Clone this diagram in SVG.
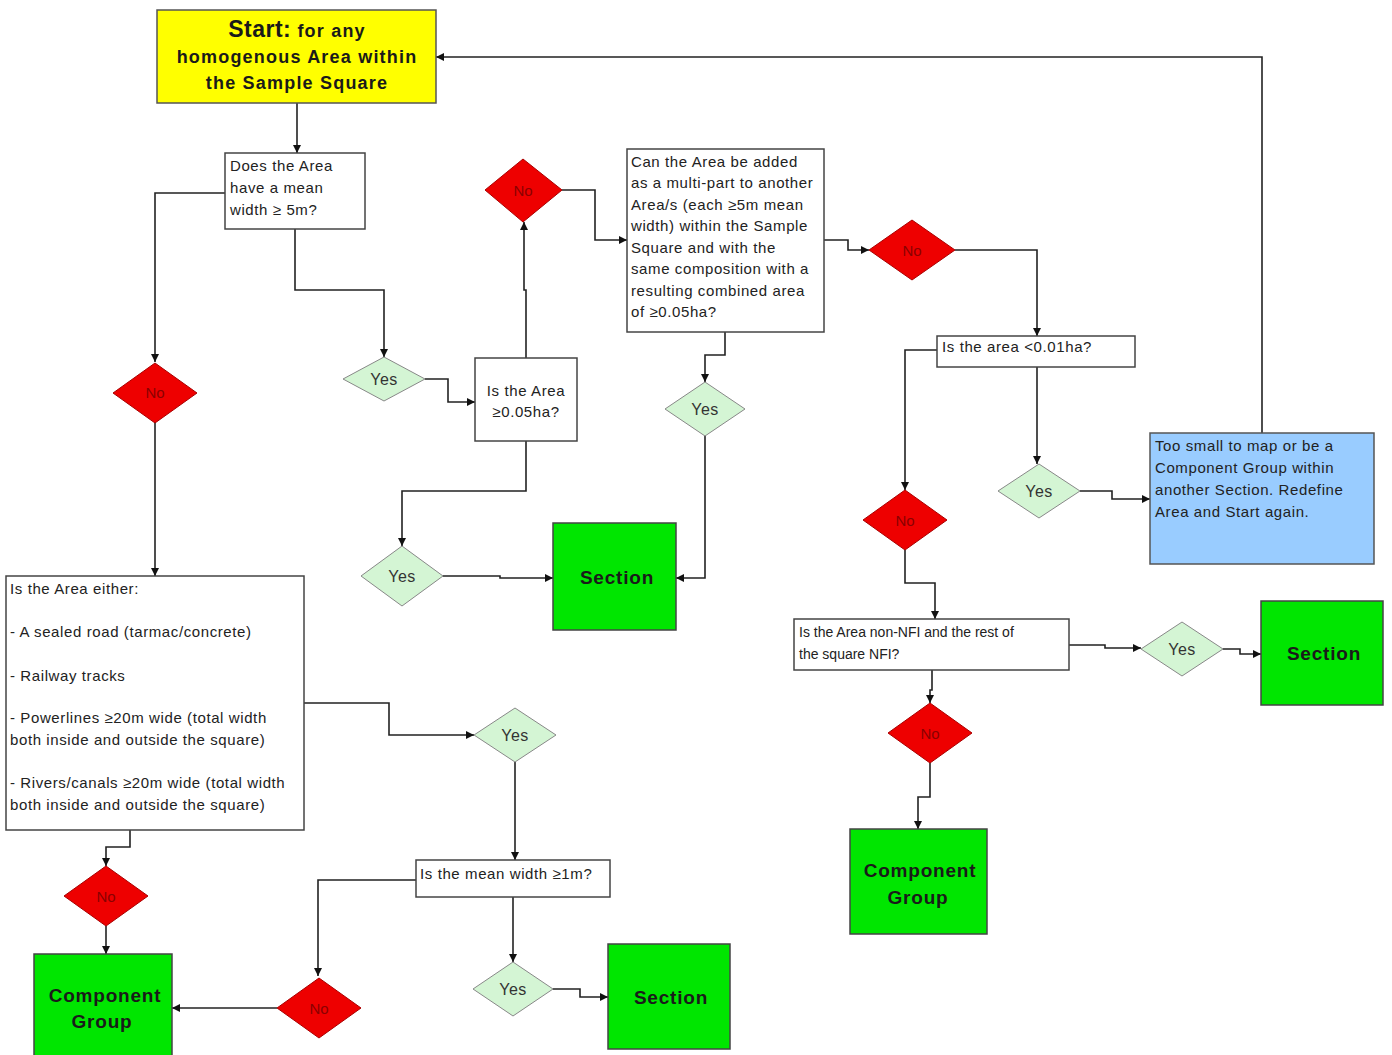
<svg xmlns="http://www.w3.org/2000/svg" width="1392" height="1055" viewBox="0 0 1392 1055">
<style>
.bx{fill:#fff;stroke:#444;stroke-width:1.5}
.st{fill:#ffff00;stroke:#555;stroke-width:1.5}
.gr{fill:#00e600;stroke:#444;stroke-width:1.5}
.bl{fill:#99ccff;stroke:#555;stroke-width:1.5}
.no{fill:#ee0000;stroke:#aa0000;stroke-width:1}
.ys{fill:#d4f5d4;stroke:#888;stroke-width:1}
.t{font-family:"Liberation Sans",Arial,sans-serif;font-size:15px;fill:#222;letter-spacing:0.6px}
.tn{font-family:"Liberation Sans",Arial,sans-serif;font-size:14px;fill:#222}
.tc{font-family:"Liberation Sans",Arial,sans-serif;font-size:15px;fill:#222;text-anchor:middle;letter-spacing:0.6px}
.nl{font-family:"Liberation Sans",Arial,sans-serif;font-size:15px;fill:#8a0000;text-anchor:middle}
.yl{font-family:"Liberation Sans",Arial,sans-serif;font-size:16px;fill:#333;text-anchor:middle;letter-spacing:0.5px}
.big{font-family:"Liberation Sans",Arial,sans-serif;font-size:19px;font-weight:bold;fill:#1a1a1a;text-anchor:middle;letter-spacing:0.8px}
.stt{font-family:"Liberation Sans",Arial,sans-serif;font-size:18px;font-weight:bold;fill:#1a1a1a;text-anchor:middle;letter-spacing:1.2px}
.c{fill:none;stroke:#222;stroke-width:1.6;marker-end:url(#a)}
</style>
<defs>
<marker id="a" viewBox="0 0 10 10" refX="10" refY="5" markerWidth="9" markerHeight="8" markerUnits="userSpaceOnUse" orient="auto">
<path d="M0,0 L10,5 L0,10 z" fill="#111"/>
</marker>
</defs>
<rect width="1392" height="1055" fill="#fff"/>

<g id="connectors">
<path class="c" d="M297,103 V153"/>
<path class="c" d="M225,193 H155 V362"/>
<path class="c" d="M155,422 V576"/>
<path class="c" d="M295,229 V290 H384 V357"/>
<path class="c" d="M425,379 H448 V402 H475"/>
<path class="c" d="M526,358 V290 H524 V222"/>
<path class="c" d="M562,190 H595 V240 H627"/>
<path class="c" d="M725,332 V355 H705 V382"/>
<path class="c" d="M705,435 V578 H676"/>
<path class="c" d="M526,441 V491 H402 V546"/>
<path class="c" d="M443,576 H500 V578 H553"/>
<path class="c" d="M824,240 H848 V250 H869"/>
<path class="c" d="M955,250 H1037 V336"/>
<path class="c" d="M937,350 H905 V490"/>
<path class="c" d="M1037,367 V464"/>
<path class="c" d="M1080,491 H1112 V499 H1150"/>
<path class="c" d="M1262,433 V57 H436"/>
<path class="c" d="M905,550 V583 H935 V619"/>
<path class="c" d="M1069,645 H1105 V648 H1141"/>
<path class="c" d="M1223,649 H1240 V654 H1261"/>
<path class="c" d="M932,670 V690 H930 V703"/>
<path class="c" d="M930,763 V797 H918 V829"/>
<path class="c" d="M304,703 H389 V735 H474"/>
<path class="c" d="M515,762 V860"/>
<path class="c" d="M416,880 H318 V976"/>
<path class="c" d="M277,1008 H172"/>
<path class="c" d="M513,897 V962"/>
<path class="c" d="M553,989 H580 V997 H608"/>
<path class="c" d="M130,830 V847 H106 V866"/>
<path class="c" d="M106,926 V954"/>
</g>

<g id="start">
<rect class="st" x="157" y="10" width="279" height="93"/>
<text class="stt" x="297" y="37"><tspan font-size="23px" letter-spacing="0.5px">Start:</tspan> for any</text>
<text class="stt" x="297" y="63">homogenous Area within</text>
<text class="stt" x="297" y="89">the Sample Square</text>
</g>

<g id="q-width5">
<rect class="bx" x="225" y="153" width="140" height="76"/>
<text class="t" x="230" y="171">Does the Area</text>
<text class="t" x="230" y="193">have a mean</text>
<text class="t" x="230" y="215">width ≥ 5m?</text>
</g>

<g id="no1"><polygon class="no" points="155,363 197,393 155,423 113,393"/><text class="nl" x="155" y="398">No</text></g>

<g id="yes1"><polygon class="ys" points="384,357 425,379 384,401 343,379"/><text class="yl" x="384" y="385">Yes</text></g>

<g id="q-area005">
<rect class="bx" x="475" y="358" width="102" height="83"/>
<text class="tc" x="526" y="396">Is the Area</text>
<text class="tc" x="526" y="417">≥0.05ha?</text>
</g>

<g id="no2"><polygon class="no" points="523,159 562,190 523,222 485,190"/><text class="nl" x="523" y="196">No</text></g>

<g id="q-multipart">
<rect class="bx" x="627" y="149" width="197" height="183"/>
<text class="t" x="631" y="167">Can the Area be added</text>
<text class="t" x="631" y="188">as a multi-part to another</text>
<text class="t" x="631" y="210">Area/s (each ≥5m mean</text>
<text class="t" x="631" y="231">width) within the Sample</text>
<text class="t" x="631" y="253">Square and with the</text>
<text class="t" x="631" y="274">same composition with a</text>
<text class="t" x="631" y="296">resulting combined area</text>
<text class="t" x="631" y="317">of ≥0.05ha?</text>
</g>

<g id="yes2"><polygon class="ys" points="705,382 745,409 705,436 665,409"/><text class="yl" x="705" y="415">Yes</text></g>

<g id="yes3"><polygon class="ys" points="402,546 443,576 402,606 361,576"/><text class="yl" x="402" y="582">Yes</text></g>

<g id="section1">
<rect class="gr" x="553" y="523" width="123" height="107"/>
<text class="big" x="617" y="584">Section</text>
</g>

<g id="no3"><polygon class="no" points="912,220 955,250 912,280 869,250"/><text class="nl" x="912" y="256">No</text></g>

<g id="q-area001">
<rect class="bx" x="937" y="336" width="198" height="31"/>
<text class="t" x="942" y="352">Is the area &lt;0.01ha?</text>
</g>

<g id="no4"><polygon class="no" points="905,490 947,520 905,550 863,520"/><text class="nl" x="905" y="526">No</text></g>

<g id="yes4"><polygon class="ys" points="1039,464 1080,491 1039,518 998,491"/><text class="yl" x="1039" y="497">Yes</text></g>

<g id="too-small">
<rect class="bl" x="1150" y="433" width="224" height="131"/>
<text class="t" x="1155" y="451">Too small to map or be a</text>
<text class="t" x="1155" y="473">Component Group within</text>
<text class="t" x="1155" y="495">another Section. Redefine</text>
<text class="t" x="1155" y="517">Area and Start again.</text>
</g>

<g id="q-nonnfi">
<rect class="bx" x="794" y="619" width="275" height="51"/>
<text class="tn" x="799" y="637">Is the Area non-NFI and the rest of</text>
<text class="tn" x="799" y="659">the square NFI?</text>
</g>

<g id="yes5"><polygon class="ys" points="1182,622 1223,649 1182,676 1141,649"/><text class="yl" x="1182" y="655">Yes</text></g>

<g id="section2">
<rect class="gr" x="1261" y="601" width="122" height="104"/>
<text class="big" x="1324" y="660">Section</text>
</g>

<g id="no5"><polygon class="no" points="930,703 972,733 930,763 888,733"/><text class="nl" x="930" y="739">No</text></g>

<g id="cg2">
<rect class="gr" x="850" y="829" width="137" height="105"/>
<text class="big" x="920" y="877">Component</text>
<text class="big" x="918" y="904">Group</text>
</g>

<g id="q-either">
<rect class="bx" x="6" y="576" width="298" height="254"/>
<text class="t" x="10" y="594">Is the Area either:</text>
<text class="t" x="10" y="637">- A sealed road (tarmac/concrete)</text>
<text class="t" x="10" y="681">- Railway tracks</text>
<text class="t" x="10" y="723">- Powerlines ≥20m wide (total width</text>
<text class="t" x="10" y="745">both inside and outside the square)</text>
<text class="t" x="10" y="788">- Rivers/canals ≥20m wide (total width</text>
<text class="t" x="10" y="810">both inside and outside the square)</text>
</g>

<g id="yes6"><polygon class="ys" points="515,708 556,735 515,762 474,735"/><text class="yl" x="515" y="741">Yes</text></g>

<g id="q-width1">
<rect class="bx" x="416" y="860" width="194" height="37"/>
<text class="t" x="420" y="879">Is the mean width ≥1m?</text>
</g>

<g id="no6"><polygon class="no" points="319,978 361,1008 319,1038 277,1008"/><text class="nl" x="319" y="1014">No</text></g>

<g id="yes7"><polygon class="ys" points="513,962 553,989 513,1016 473,989"/><text class="yl" x="513" y="995">Yes</text></g>

<g id="section3">
<rect class="gr" x="608" y="944" width="122" height="105"/>
<text class="big" x="671" y="1004">Section</text>
</g>

<g id="no7"><polygon class="no" points="106,866 148,896 106,926 64,896"/><text class="nl" x="106" y="902">No</text></g>

<g id="cg1">
<rect class="gr" x="34" y="954" width="138" height="110"/>
<text class="big" x="105" y="1002">Component</text>
<text class="big" x="102" y="1028">Group</text>
</g>
</svg>
